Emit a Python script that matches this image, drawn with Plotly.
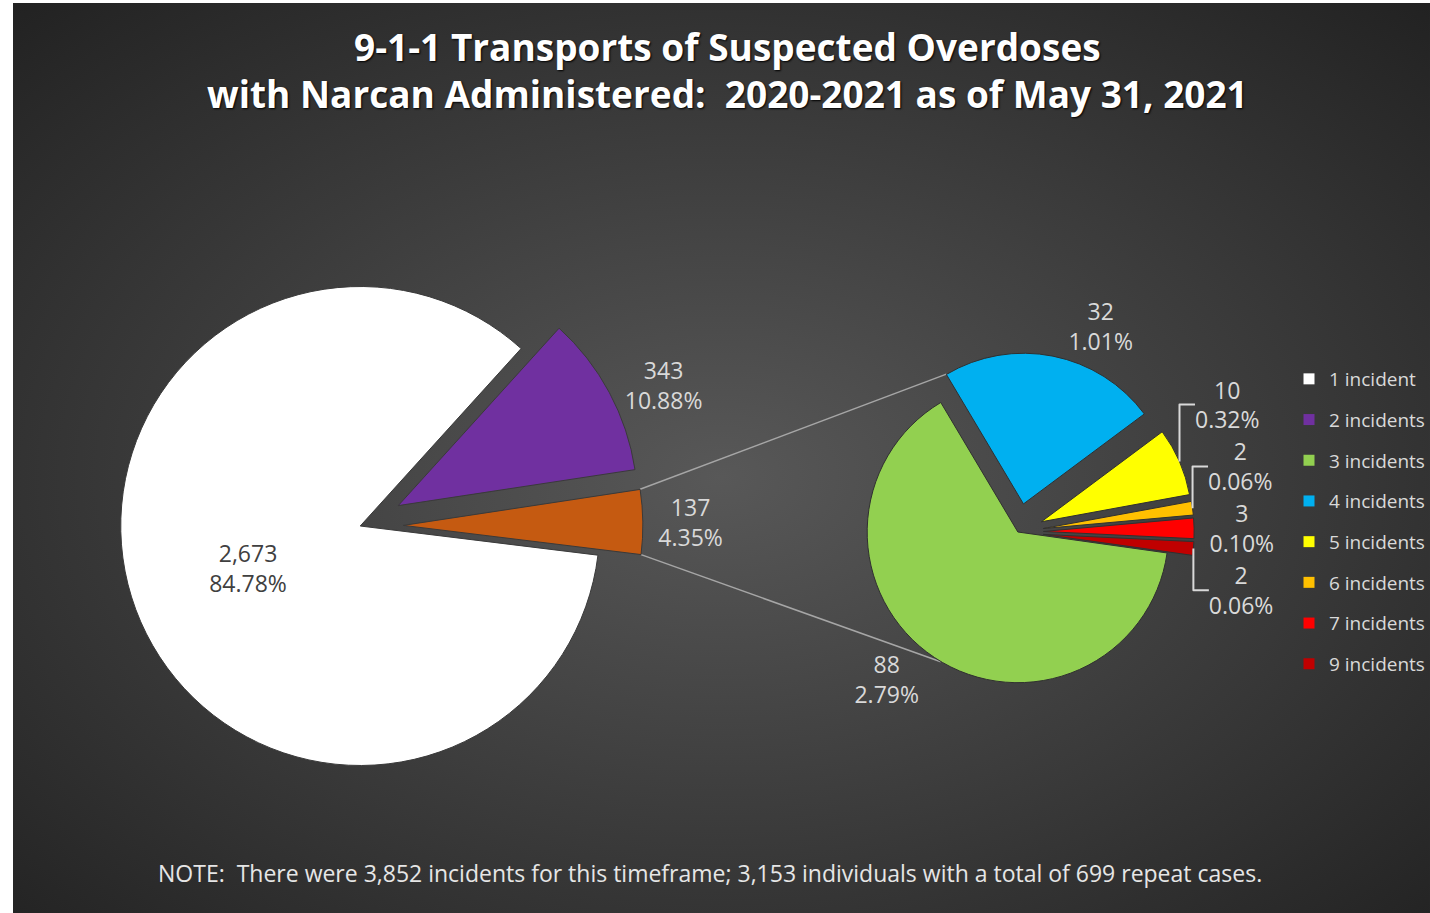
import base64
import math
import plotly.graph_objects as go

# ---------------- data ----------------
title_lines = ["9-1-1 Transports of Suspected Overdoses",
               "with Narcan Administered:  2020-2021 as of May 31, 2021"]
note_text = ("NOTE:  There were 3,852 incidents for this timeframe; "
             "3,153 individuals with a total of 699 repeat cases.")

main_labels = ["1 incident", "2 incidents", "3+ incidents"]
main_values = [2673, 343, 137]
main_colors = ["#ffffff", "#7030a0", "#c55a11"]

sub_labels = ["3 incidents", "4 incidents", "5 incidents",
              "6 incidents", "7 incidents", "9 incidents"]
sub_values = [88, 32, 10, 2, 3, 2]
sub_colors = ["#92d050", "#00b0f0", "#ffff00", "#ffc000", "#ff0000", "#c00000"]

legend_labels = main_labels[:2] + sub_labels
legend_colors = main_colors[:2] + sub_colors

# ---------------- layout constants ----------------
W, H = 1430, 913
MAIN_CX, MAIN_CY, MAIN_R, MAIN_ROT = 361, 526, 240, 97
SUB_CX, SUB_CY, SUB_R, SUB_ROT = 1020, 532, 151, 98
main_pull = [0, 0.18, 0.18]
sub_pull = [0, 0.19, 0.17, 0.17, 0.17, 0.17]
FONT = "Open Sans"

total = sum(main_values)


def label_text(v):
    return f"{v:,}<br>{v / total * 100:.2f}%"


def domain(cx, cy, r, pulls):
    half = r * (1 + max(pulls))
    return dict(x=[(cx - half) / W, (cx + half) / W],
                y=[1 - (cy + half) / H, 1 - (cy - half) / H])


def pt(cx, cy, r, ang):
    a = math.radians(ang)
    return cx + r * math.sin(a), cy - r * math.cos(a)


def paper(p):
    return p[0] / W, 1 - p[1] / H


label_font = dict(family=FONT, size=23, color="#d9d9d9")

fig = go.Figure()

fig.add_trace(go.Pie(
    labels=main_labels, values=main_values, sort=False,
    direction="clockwise", rotation=MAIN_ROT, pull=main_pull,
    marker=dict(colors=main_colors, line=dict(color="#3a3a3a", width=1)),
    text=[label_text(v) for v in main_values], texttemplate="%{text}",
    textposition=["inside", "outside", "outside"],
    insidetextorientation="horizontal",
    insidetextfont=dict(family=FONT, size=23, color="#404040"),
    outsidetextfont=label_font,
    domain=domain(MAIN_CX, MAIN_CY, MAIN_R, main_pull),
    showlegend=False, hoverinfo="label+value",
))

fig.add_trace(go.Pie(
    labels=sub_labels, values=sub_values, sort=False,
    direction="clockwise", rotation=SUB_ROT, pull=sub_pull,
    marker=dict(colors=sub_colors, line=dict(color="#303030", width=1)),
    text=[label_text(v) for v in sub_values], texttemplate="%{text}",
    textposition="outside",
    outsidetextfont=label_font,
    domain=domain(SUB_CX, SUB_CY, SUB_R, sub_pull),
    showlegend=False, hoverinfo="label+value",
))

# legend entries
for lab, col in zip(legend_labels, legend_colors):
    fig.add_trace(go.Scatter(
        x=[None], y=[None], mode="markers", name=lab, legendgroup=lab,
        marker=dict(symbol="square", size=11, color=col, line=dict(width=0)),
    ))

# connector lines (derived from slice angles)
mtot = sum(main_values)
a0 = MAIN_ROT + 360 * sum(main_values[:2]) / mtot
a1 = MAIN_ROT + 360
mid = (a0 + a1) / 2
ocx, ocy = pt(MAIN_CX, MAIN_CY, main_pull[2] * MAIN_R, mid)
m_top = pt(ocx, ocy, MAIN_R, a0)
m_bot = pt(ocx, ocy, MAIN_R, a1)

stot = sum(sub_values)
b0 = SUB_ROT + 360 * sub_values[0] / stot
bmid = b0 + 180 * sub_values[1] / stot
bcx, bcy = pt(SUB_CX, SUB_CY, sub_pull[1] * SUB_R, bmid)
s_top = pt(bcx, bcy, SUB_R, b0)
s_bot = pt(SUB_CX, SUB_CY, SUB_R, 540 - b0)

shapes = []
for p, q in [(m_top, s_top), (m_bot, s_bot)]:
    (x0, y0), (x1, y1) = paper(p), paper(q)
    shapes.append(dict(type="line", xref="paper", yref="paper",
                       x0=x0, y0=y0, x1=x1, y1=y1, layer="below",
                       line=dict(color="#a6a6a6", width=1.5)))

# background radial gradient
svg = ("<svg xmlns='http://www.w3.org/2000/svg' width='1420' height='912' "
       "viewBox='0 0 1420 912' preserveAspectRatio='none'>"
       "<defs><radialGradient id='g' cx='50%' cy='52%' r='72%'>"
       "<stop offset='0%' stop-color='#585858'/>"
       "<stop offset='100%' stop-color='#222222'/>"
       "</radialGradient></defs>"
       "<rect width='1420' height='912' fill='url(#g)'/></svg>")
src = "data:image/svg+xml;base64," + base64.b64encode(svg.encode()).decode()

title_font = dict(family=FONT, size=37, color="#ffffff", weight="bold",
                  shadow="1px 1px 2px #000000")
annotations = [
    dict(text=title_lines[0], x=729 / W, y=1 - 46 / H, xref="paper", yref="paper",
         showarrow=False, xanchor="center", yanchor="middle", font=title_font),
    dict(text=title_lines[1], x=729 / W, y=1 - 93 / H, xref="paper", yref="paper",
         showarrow=False, xanchor="center", yanchor="middle", font=title_font),
    dict(text=note_text, x=711 / W, y=1 - 873 / H, xref="paper", yref="paper",
         showarrow=False, xanchor="center", yanchor="middle",
         font=dict(family=FONT, size=23, color="#e6e6e6")),
]

fig.update_layout(
    width=W, height=H, margin=dict(l=0, r=0, t=0, b=0),
    paper_bgcolor="#ffffff", plot_bgcolor="rgba(0,0,0,0)",
    xaxis=dict(visible=False, domain=[0, 0.01]),
    yaxis=dict(visible=False, domain=[0, 0.01]),
    images=[dict(source=src, xref="paper", yref="paper", x=13 / W, y=1 - 3 / H,
                 sizex=(W - 10) / W, sizey=(H - 1) / H, sizing="stretch",
                 xanchor="left", yanchor="top", layer="below")],
    shapes=shapes,
    annotations=annotations,
    legend=dict(x=1292 / W, y=1 - 360 / H, xanchor="left", yanchor="top",
                font=dict(family=FONT, size=19, color="#d9d9d9"),
                bgcolor="rgba(0,0,0,0)", traceorder="grouped",
                tracegroupgap=13, itemwidth=30),
    showlegend=True,
)

fig.write_html("out.html", config={"displayModeBar": False},
               post_script="document.body.style.margin='0';"
                           "document.body.style.overflow='hidden';")
